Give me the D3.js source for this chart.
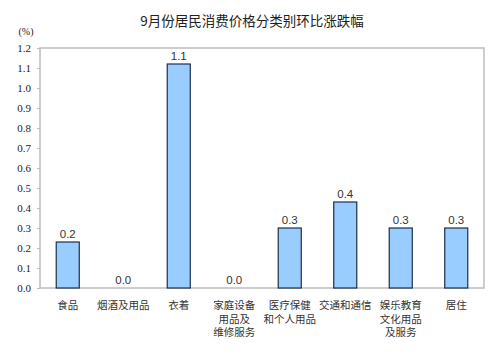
<!DOCTYPE html>
<html><head><meta charset="utf-8">
<script src="https://cdn.jsdelivr.net/npm/d3@7"></script>
<style>body{margin:0;background:#fff}svg{display:block}</style>
</head><body>
<svg id="c" width="500" height="357"></svg>
<script>
const title = "9月份居民消费价格分类别环比涨跌幅";
const unitLabel = "(%)";
const categories = ["食品","烟酒及用品","衣着","家庭设备用品及维修服务","医疗保健和个人用品","交通和通信","娱乐教育文化用品及服务","居住"];
const categoryLines = [["食品"],["烟酒及用品"],["衣着"],["家庭设备","用品及","维修服务"],["医疗保健","和个人用品"],["交通和通信"],["娱乐教育","文化用品","及服务"],["居住"]];
const values = [0.23, 0.0, 1.12, 0.0, 0.30, 0.43, 0.30, 0.30];
const valueLabels = ["0.2","0.0","1.1","0.0","0.3","0.4","0.3","0.3"];
const yTicks = [0,0.1,0.2,0.3,0.4,0.5,0.6,0.7,0.8,0.9,1.0,1.1,1.2];

const svg = d3.select("#c");
const L = 40, R = 484, T = 48, B = 288;
const x = d3.scaleBand().domain(categories).range([L, R]).paddingInner(0.585).paddingOuter(0.2925);
const y = d3.scaleLinear().domain([0, 1.2]).range([B, T]);

svg.append("text").attr("x", 252).attr("y", 26).attr("text-anchor","middle")
  .attr("font-family","'Noto Sans CJK SC', sans-serif").attr("font-size",13.5).attr("fill","#222").text(title);
svg.append("text").attr("x", 26).attr("y", 35).attr("text-anchor","middle")
  .attr("font-family","'Liberation Serif', serif").attr("font-size",10).attr("fill","#222").text(unitLabel);

// y axis
const yAxis = d3.axisLeft(y).tickValues(yTicks).tickFormat(d3.format(".1f")).tickSize(3).tickPadding(6);
const ga = svg.append("g").attr("transform",`translate(${L},0)`).call(yAxis);
ga.select(".domain").remove();
ga.selectAll(".tick line").attr("stroke","#bbb");
ga.selectAll(".tick text").attr("font-family","'Liberation Serif', serif").attr("font-size",11).attr("fill","#222");

// frame
svg.append("rect").attr("x",L).attr("y",T).attr("width",R-L).attr("height",B-T)
  .attr("fill","none").attr("stroke","#bdbdbd").attr("stroke-width",1.5);

// bars
svg.selectAll(".bar").data(values).join("rect").attr("class","bar")
  .attr("x",(d,i)=>x(categories[i])).attr("width",x.bandwidth())
  .attr("y",d=>y(d)).attr("height",d=>B-y(d))
  .attr("fill","#99ccff").attr("stroke","#1c2f4a").attr("stroke-width",1.2);

// value labels
svg.selectAll(".vl").data(values).join("text").attr("class","vl")
  .attr("x",(d,i)=>x(categories[i])+x.bandwidth()/2).attr("y",d=>y(d)-4)
  .attr("text-anchor","middle").attr("font-family","'Liberation Sans', Arial, sans-serif")
  .attr("font-size",11.5).attr("fill","#333").text((d,i)=>valueLabels[i]);

// category labels
const cl = svg.selectAll(".cl").data(categoryLines).join("text").attr("class","cl")
  .attr("text-anchor","middle").attr("font-family","'Noto Sans CJK SC', sans-serif")
  .attr("font-size",10.5).attr("fill","#333");
cl.each(function(lines,i){
  const cx = x(categories[i]) + x.bandwidth()/2;
  d3.select(this).selectAll("tspan").data(lines).join("tspan")
    .attr("x",cx).attr("y",(d,j)=>309 + j*13.5).text(d=>d);
});
</script>
</body></html>
